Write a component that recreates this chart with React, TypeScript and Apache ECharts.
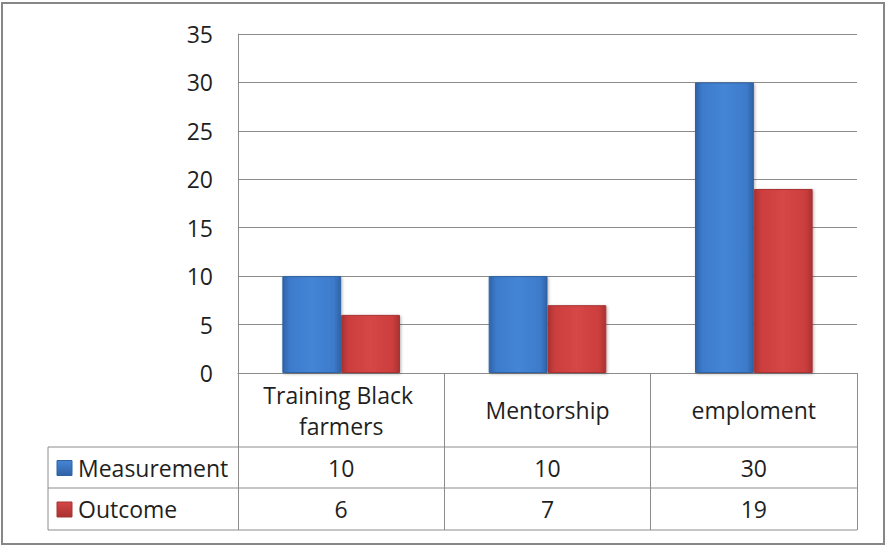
import React, { useEffect, useRef } from "react";
import * as echarts from "echarts";

const categories = ["Training Black farmers", "Mentorship", "emploment"];
const seriesNames = ["Measurement", "Outcome"];
const measurement = [10, 10, 30];
const outcome = [6, 7, 19];
const yMin = 0;
const yMax = 35;
const yInterval = 5;

const W = 886;
const H = 548;
const GRID = { left: 238, top: 34, right: 857, bottom: 373 };
const ROW_LINES = [447, 488, 530];
const TABLE_LEFT = 48;
const FONT = "'Open Sans', 'Liberation Sans', sans-serif";
const FS = 23;
const TEXT_COLOR = "#1f1f1f";
const LINE_COLOR = "#8c8c8c";

const barFill = (dark: string, mid: string, light: string) =>
  new echarts.graphic.LinearGradient(0, 0, 1, 0, [
    { offset: 0, color: dark },
    { offset: 0.12, color: mid },
    { offset: 0.5, color: light },
    { offset: 0.88, color: mid },
    { offset: 1, color: dark },
  ]);

const BLUE = { dark: "#2f63a6", mid: "#3d7bcb", light: "#4585d6" };
const RED = { dark: "#a83232", mid: "#cc3e3e", light: "#d64646" };

export default function App() {
  const ref = useRef<HTMLDivElement>(null);

  useEffect(() => {
    if (!ref.current) return;
    const chart = echarts.init(ref.current, undefined, { renderer: "svg" });
    const values = [measurement, outcome];
    const colors = [BLUE, RED];

    chart.setOption({
      animation: false,
      backgroundColor: "#ffffff",
      grid: {
        left: GRID.left,
        top: GRID.top,
        width: GRID.right - GRID.left,
        height: GRID.bottom - GRID.top,
      },
      xAxis: {
        type: "category",
        data: categories,
        boundaryGap: true,
        axisLine: { show: true, lineStyle: { color: LINE_COLOR, width: 1 } },
        axisTick: {
          show: true,
          length: ROW_LINES[2] - GRID.bottom,
          lineStyle: { color: LINE_COLOR, width: 1 },
        },
        axisLabel: {
          interval: 0,
          margin: 37,
          verticalAlign: "middle",
          lineHeight: 31,
          fontSize: FS,
          fontFamily: FONT,
          color: TEXT_COLOR,
          width: 180,
          overflow: "break",
        },
        splitLine: { show: false },
      },
      yAxis: {
        type: "value",
        min: yMin,
        max: yMax,
        interval: yInterval,
        axisLine: { show: true, lineStyle: { color: LINE_COLOR, width: 1 } },
        axisTick: { show: false },
        axisLabel: {
          margin: 25,
          fontSize: FS,
          fontFamily: FONT,
          color: TEXT_COLOR,
        },
        splitLine: { show: true, lineStyle: { color: LINE_COLOR, width: 1 } },
      },
      series: seriesNames.map((name, i) => ({
        name,
        type: "bar",
        data: values[i],
        barCategoryGap: "43%",
        barGap: "0%",
        itemStyle: {
          color: barFill(colors[i].dark, colors[i].mid, colors[i].light),
          borderColor: colors[i].dark,
          borderWidth: 1,
          shadowColor: "rgba(0,0,0,0.3)",
          shadowBlur: 3,
          shadowOffsetX: 1,
          shadowOffsetY: 1,
        },
      })),
    });

    const graphics: any[] = [];
    graphics.push({
      type: "rect",
      shape: { x: 2, y: 3, width: 882, height: 541 },
      style: { fill: "none", stroke: "#878787", lineWidth: 2 },
      silent: true,
    });
    ROW_LINES.forEach((y) => {
      graphics.push({
        type: "line",
        shape: { x1: TABLE_LEFT, y1: y, x2: GRID.right, y2: y },
        style: { stroke: LINE_COLOR, lineWidth: 1 },
        silent: true,
      });
    });
    graphics.push({
      type: "line",
      shape: { x1: TABLE_LEFT, y1: ROW_LINES[0], x2: TABLE_LEFT, y2: ROW_LINES[2] },
      style: { stroke: LINE_COLOR, lineWidth: 1 },
      silent: true,
    });
    seriesNames.forEach((name, i) => {
      const yTop = ROW_LINES[i];
      const yBot = ROW_LINES[i + 1];
      const cy = (yTop + yBot) / 2;
      const c = colors[i];
      graphics.push({
        type: "rect",
        shape: { x: 57, y: cy - 7, width: 15, height: 15 },
        style: {
          fill: new echarts.graphic.LinearGradient(0, 0, 0, 1, [
            { offset: 0, color: c.light },
            { offset: 1, color: c.dark },
          ]),
          stroke: c.dark,
          lineWidth: 1,
        },
        silent: true,
      });
      graphics.push({
        type: "text",
        x: 78,
        y: cy,
        style: {
          text: name,
          fontSize: FS,
          fontFamily: FONT,
          fill: TEXT_COLOR,
          align: "left",
          verticalAlign: "middle",
        },
        silent: true,
      });
      values[i].forEach((v, j) => {
        const px = chart.convertToPixel({ xAxisIndex: 0 }, categories[j]) as number;
        graphics.push({
          type: "text",
          x: px,
          y: cy,
          style: {
            text: String(v),
            fontSize: FS,
            fontFamily: FONT,
            fill: TEXT_COLOR,
            align: "center",
            verticalAlign: "middle",
          },
          silent: true,
        });
      });
    });

    chart.setOption({ graphic: { elements: graphics } });

    return () => chart.dispose();
  }, []);

  return (
    <div
      ref={ref}
      style={{ position: "absolute", left: 0, top: 0, width: W, height: H }}
    />
  );
}
